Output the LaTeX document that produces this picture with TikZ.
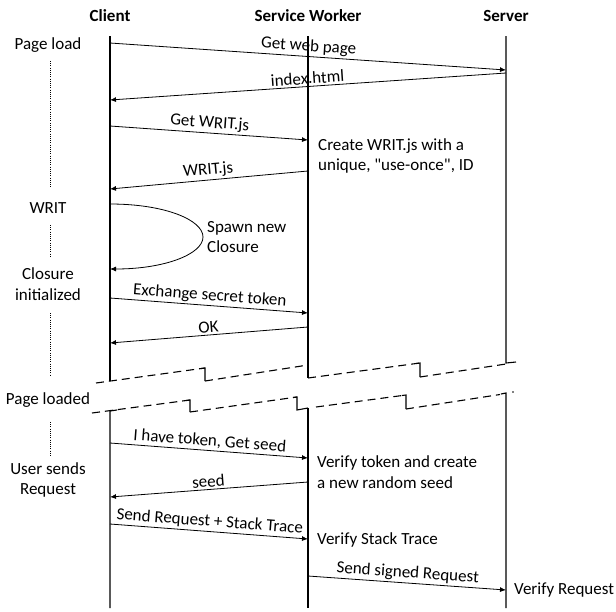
\documentclass[tikz,border=0pt]{standalone}
\usepackage{fontspec}
\setmainfont{Carlito}
\usetikzlibrary{arrows.meta}
\begin{document}
\begin{tikzpicture}[x=1pt,y=-1pt,
  font=\fontsize{17}{20.5}\selectfont,
  title/.style={font=\fontsize{17}{20.5}\selectfont\bfseries},
  life/.style={line width=1.1pt},
  msg/.style={line width=0.8pt,-{Latex[length=6pt,width=5pt]}},
  lbl/.style={midway,above,sloped,inner sep=2pt},
  tear/.style={line width=1.1pt,dash pattern=on 8pt off 5pt},
  tearstep/.style={line width=1.1pt},
  phase/.style={align=center,inner sep=0pt},
  note/.style={anchor=west,align=left,inner sep=0pt},
  dots/.style={line width=1pt,dash pattern=on 1pt off 1.2pt}]

\useasboundingbox (0,0) rectangle (616,611);

% column headings
\node[title] (hc) at (110,16) {Client};
\node[title] (hw) at (308,16) {Service Worker};
\node[title] (hs) at (506,16) {Server};

% lifelines, upper part
\coordinate (ct) at (110,36);  \coordinate (cb) at (110,381);
\coordinate (wt) at (308,36);  \coordinate (wb) at (308,378);
\coordinate (st) at (506,36);  \coordinate (sb) at (506,363);
\draw[life] (ct) -- (cb);
\draw[life] (wt) -- (wb);
\draw[life] (st) -- (sb) -- (516,362);

% lifelines, lower part
\coordinate (cl) at (110,411); \coordinate (cz) at (110,608);
\coordinate (wl) at (308,408); \coordinate (wz) at (308,608);
\coordinate (sl) at (506,393); \coordinate (sz) at (506,608);
\draw[life] (117,410) -- (cl) -- (cz);
\draw[life] (wl) -- (wz);
\draw[life] (501,394) -- (sl) -- (sz);

% upper torn edge
\draw[tear] (96,383) -- (205,368);
\draw[tearstep] (201,368.5) -- (205,368) -- (205,381);
\draw[tear] (205,381) -- (308,365);
\draw[tear] (308,378) -- (420,363);
\draw[tearstep] (416,363.5) -- (420,363) -- (420,377);
\draw[tear] (420,377) -- (506,364);

% lower torn edge
\draw[tear] (92,413) -- (190,400);
\draw[tearstep] (186,400.5) -- (190,400) -- (190,412);
\draw[tear] (190,412) -- (297,397);
\draw[tearstep] (293,397.5) -- (297,397) -- (297,410) -- (308,408);
\draw[tear] (316,407) -- (406,395);
\draw[tearstep] (402,395.5) -- (406,395) -- (406,409);
\draw[tear] (406,409) -- (500,394.5);
\fill (513,392) circle (0.8pt);

% phases on the left
\node[phase] (p1) at (48,45) {Page load};
\node[phase] (p2) at (48,208) {WRIT};
\node[phase] (p3) at (48,284) {Closure\\initialized};
\node[phase] (p4) at (48,400) {Page loaded};
\node[phase] (p5) at (48,480) {User sends\\Request};
\draw[dots] (50,61) -- (50,188);
\draw[dots] (50,225) -- (50,257);
\draw[dots] (50,313) -- (50,375);
\draw[dots] (50,422) -- (50,457);

% messages
\coordinate (m1a) at (110,43);  \coordinate (m1b) at (506,70);
\coordinate (m2a) at (506,73);  \coordinate (m2b) at (110,100);
\coordinate (m3a) at (110,126); \coordinate (m3b) at (308,140);
\coordinate (m4a) at (308,171); \coordinate (m4b) at (110,189);
\coordinate (m5a) at (110,204); \coordinate (m5b) at (110,269);
\coordinate (m6a) at (110,298); \coordinate (m6b) at (308,313);
\coordinate (m7a) at (308,327); \coordinate (m7b) at (110,343);
\coordinate (m8a) at (110,443); \coordinate (m8b) at (308,458);
\coordinate (m9a) at (308,482); \coordinate (m9b) at (110,497);
\coordinate (mAa) at (110,524); \coordinate (mAb) at (308,539);
\coordinate (mBa) at (308,576); \coordinate (mBb) at (506,590);

\draw[msg] (m1a) -- node[lbl] {Get web page} (m1b);
\draw[msg] (m2a) -- node[lbl] {index.html} (m2b);
\draw[msg] (m3a) -- node[lbl] {Get WRIT.js} (m3b);
\draw[msg] (m4a) -- node[lbl] {WRIT.js} (m4b);
\draw[msg] (m5a) .. controls (165,204) and (203,220) .. (203,237)
                 .. controls (203,254) and (165,269) .. (m5b);
\draw[msg] (m6a) -- node[lbl] {Exchange secret token} (m6b);
\draw[msg] (m7a) -- node[lbl] {OK} (m7b);
\draw[msg] (m8a) -- node[lbl] {I have token, Get seed} (m8b);
\draw[msg] (m9a) -- node[lbl] {seed} (m9b);
\draw[msg] (mAa) -- node[lbl] {Send Request + Stack Trace} (mAb);
\draw[msg] (mBa) -- node[lbl] {Send signed Request} (mBb);

% notes beside the lifelines
\node[note] (n1) at (318,156) {Create WRIT.js with a\\unique, \textquotedbl use-once\textquotedbl, ID};
\node[note] (n2) at (207,237) {Spawn new\\Closure};
\node[note] (n3) at (317,472) {Verify token and create\\a new random seed};
\node[note] (n4) at (317,540) {Verify Stack Trace};
\node[note] (n5) at (514,590) {Verify Request};
\end{tikzpicture}
\end{document}
